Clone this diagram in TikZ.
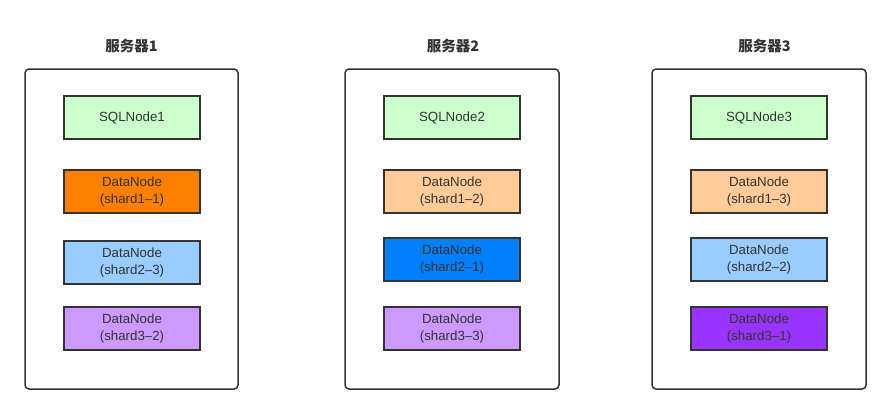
\documentclass[tikz,border=0pt]{standalone}
\usepackage{fontspec}
\setsansfont{Liberation Sans}
\newfontfamily\cjkfont{Noto Sans CJK SC}
\usetikzlibrary{positioning}
\definecolor{linegray}{HTML}{333333}
\definecolor{sqlgreen}{HTML}{CCFFCC}
\definecolor{shardorange}{HTML}{FF8000}
\definecolor{shardpeach}{HTML}{FFCC99}
\definecolor{shardsky}{HTML}{99CCFF}
\definecolor{shardblue}{HTML}{007FFF}
\definecolor{shardlilac}{HTML}{CC99FF}
\definecolor{shardviolet}{HTML}{9933FF}
\tikzset{
  server/.style={draw=linegray, line width=1.5pt, rounded corners=4pt,
    minimum width=213pt, minimum height=320pt, inner sep=0pt},
  nodebox/.style={draw=linegray, line width=2pt, minimum width=136pt,
    minimum height=43pt, inner sep=0pt, align=center, text=linegray,
    font=\sffamily\fontsize{13.3}{16.7}\selectfont},
  servtitle/.style={text=linegray, font=\cjkfont\bfseries\fontsize{14.5}{16}\selectfont}
}
\newcommand{\datanode}[4]{\node[nodebox, fill=#3] (#1) at #2 {DataNode\\(shard#4)};}

\begin{document}
\begin{tikzpicture}[x=1pt, y=-1pt]
    \useasboundingbox (0,0) rectangle (891,415);
    % server 1
    \node[servtitle] (t1) at (131.5,46) {服务器1};
    \node[server] (s1) at (131.5,229) {};
    \node[nodebox, fill=sqlgreen] (sql1) at (132,117.5) {SQLNode1};
    \datanode{d11}{(132,191.5)}{shardorange}{1--1}
    \datanode{d23}{(132,262.5)}{shardsky}{2--3}
    \datanode{d32}{(132,328.5)}{shardlilac}{3--2}
    % server 2
    \node[servtitle] (t2) at (453,46) {服务器2};
    \node[server, minimum width=214pt] (s2) at (452,229) {};
    \node[nodebox, fill=sqlgreen] (sql2) at (452,117.5) {SQLNode2};
    \datanode{d12}{(452,191.5)}{shardpeach}{1--2}
    \datanode{d21}{(452,259.5)}{shardblue}{2--1}
    \datanode{d33}{(452,328.5)}{shardlilac}{3--3}
    % server 3
    \node[servtitle] (t3) at (764.5,46) {服务器3};
    \node[server, minimum width=214pt] (s3) at (759,229) {};
    \node[nodebox, fill=sqlgreen] (sql3) at (759,117.5) {SQLNode3};
    \datanode{d13}{(759,191.5)}{shardpeach}{1--3}
    \datanode{d22}{(759,259.5)}{shardsky}{2--2}
    \datanode{d31}{(759,328.5)}{shardviolet}{3--1}
\end{tikzpicture}
\end{document}
